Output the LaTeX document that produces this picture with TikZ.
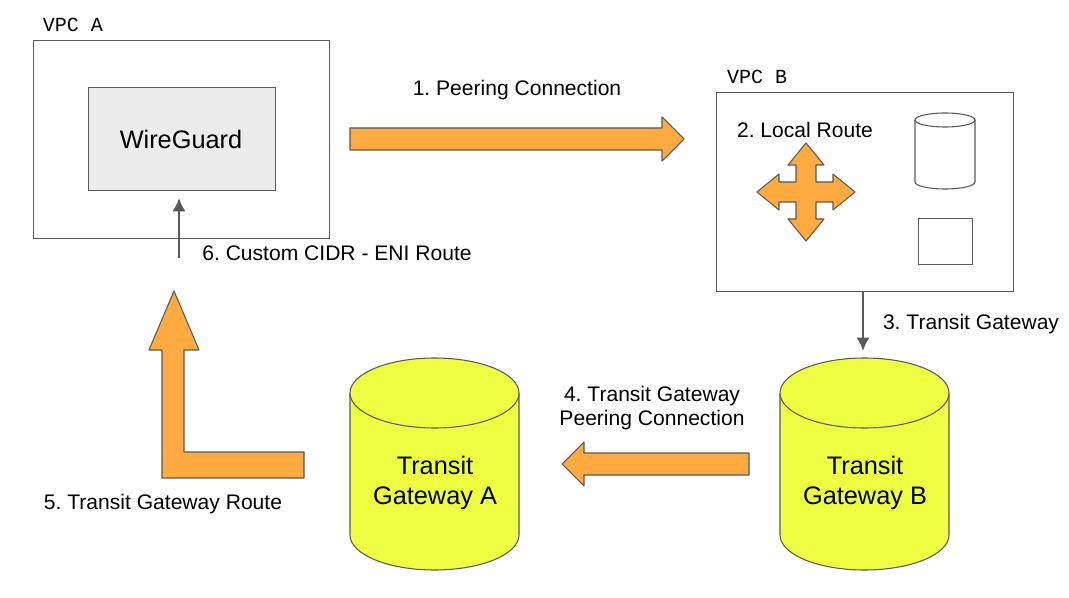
\documentclass[tikz,border=0pt]{standalone}
\usepackage{fontspec}
\usetikzlibrary{arrows.meta}
\setmainfont{Liberation Sans}
\newfontfamily\monof{Liberation Mono}
\definecolor{org}{HTML}{FFAB40}
\definecolor{ylw}{HTML}{EEFF41}
\definecolor{edge}{HTML}{595959}
\frenchspacing
\begin{document}
\frenchspacing
\begin{tikzpicture}[x=0.75pt,y=-0.75pt,
  lbl/.style={font=\fontsize{15.8}{18.5}\selectfont,align=center},
  big/.style={font=\fontsize{19}{22}\selectfont,align=center},
  mono/.style={font=\monof\fontsize{15}{18}\selectfont},
  box/.style={draw=edge,line width=0.8pt},
  blk/.style={draw=edge,fill=org,line width=0.8pt,line join=round},
  cyl/.style={draw=edge,fill=ylw,line width=0.8pt},
  conn/.style={draw=edge,line width=2pt,-{Latex[length=10pt,width=10pt]}}]
\useasboundingbox (0,0) rectangle (1069,598);
\fill[white] (0,0) rectangle (1069,598);
% VPC A
\node[mono] (la) at (73,25) {VPC A};
\node[box,minimum width=296*0.75pt,minimum height=198*0.75pt,anchor=north west] (vpca) at (33,40) {};
\node[box,fill=gray!15,minimum width=187*0.75pt,minimum height=103*0.75pt,anchor=north west] (wg) at (88,87) {};
\node[big] (wgt) at (181,139) {WireGuard};
% arrow 1
\draw[blk] (350,128)--(662,128)--(662,117)--(684,139)--(662,161)--(662,150)--(350,150)--cycle;
\node[lbl] (l1) at (517,90) {1. Peering Connection};
% VPC B
\node[mono] (lb) at (757,77) {VPC B};
\node[box,minimum width=297*0.75pt,minimum height=199*0.75pt,anchor=north west] (vpcb) at (716,92) {};
\node[lbl] (l2) at (805,130) {2. Local Route};
% quad arrow
\begin{scope}[shift={(806,192)}]
\draw[blk] (-10,-10)--(-10,-27)--(-18,-27)--(0,-49)--(18,-27)--(10,-27)--(10,-10)
 --(27,-10)--(27,-18)--(49,0)--(27,18)--(27,10)--(10,10)
 --(10,27)--(18,27)--(0,49)--(-18,27)--(-10,27)--(-10,10)
 --(-27,10)--(-27,18)--(-49,0)--(-27,-18)--(-27,-10)--cycle;
\end{scope}
% small cylinder
\draw[box,fill=white] (915,120)--(915,182) arc[start angle=180,end angle=0,x radius=30,y radius=7]--(975,120);
\draw[box,fill=white] (945,120) ellipse[x radius=30,y radius=7];
\node[box,minimum width=54*0.75pt,minimum height=46*0.75pt,anchor=north west] (sq) at (918,218) {};
% cylinders
\draw[cyl] (780,393)--(780,535) arc[start angle=180,end angle=0,x radius=84.5,y radius=35]--(949,393);
\draw[cyl] (864.5,393) ellipse[x radius=84.5,y radius=35];
\node[big] (tgb) at (865,483) {Transit\\Gateway B};
\draw[cyl] (350,393)--(350,535) arc[start angle=180,end angle=0,x radius=84.5,y radius=35]--(519,393);
\draw[cyl] (434.5,393) ellipse[x radius=84.5,y radius=35];
\node[big] (tga) at (435,483) {Transit\\Gateway A};
% arrow 3
\coordinate (a3s) at (863,291);
\coordinate (a3e) at (863,351);
\draw[conn] (a3s)--(a3e);
\node[lbl] (l3) at (971,324) {3. Transit Gateway};
% arrow 4
\draw[blk] (749,453)--(584,453)--(584,442)--(562,464)--(584,486)--(584,475)--(749,475)--cycle;
\node[lbl] (l4) at (652,408) {4. Transit Gateway\\Peering Connection};
% arrow 5
\draw[blk] (304,452)--(184,452)--(184,350)--(199,350)--(174,291)--(149,350)--(162,350)--(162,478)--(304,478)--cycle;
\node[lbl] (l5) at (163,504) {5. Transit Gateway Route};
% arrow 6
\coordinate (a6s) at (179,258);
\coordinate (a6e) at (179,198);
\draw[conn] (a6s)--(a6e);
\node[lbl] (l6) at (337,253) {6. Custom CIDR - ENI Route};
\end{tikzpicture}
\end{document}
